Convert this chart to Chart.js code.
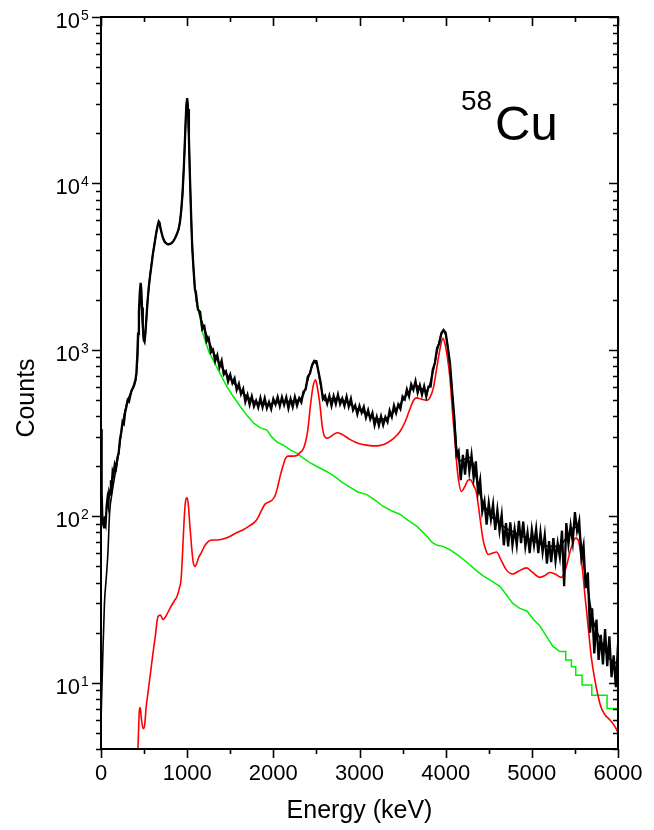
<!DOCTYPE html>
<html>
<head>
<meta charset="utf-8">
<script src="https://cdn.jsdelivr.net/npm/chart.js@4.4.1/dist/chart.umd.min.js"></script>
<style>
  html, body { margin: 0; padding: 0; background: #fff; }
  canvas { display: block; }
</style>
</head>
<body>
<canvas id="chart" width="654" height="830"></canvas>
<script>
// measured spectrum, low energy part (keV, counts)
const specLowE = [0,5,10,15,25,35,45,55,65,75,85,95,105,115,125,135,145,160,175,190,205,220,235,250,265,280,295,310,325,340,355,370,385,400,410,420,430,440,450,460,468,476,485,495,505,515,525,540,555,570,585,600,620,640,655,670,680,690,705,720,740,760,780,800,820,840,860,880,900,915,930,945,960,970,980,990,1000,1010,1020,1030,1040,1050,1060,1075,1090];
const specLowC = [335,230,140,100,90,86,100,93,115,128,118,140,135,165,155,185,178,205,195,225,240,290,320,370,360,420,455,500,490,530,570,590,620,660,720,900,1250,1700,2200,2530,2300,1800,1400,1150,1120,1250,1500,1950,2400,2800,3200,3700,4300,5000,5500,5900,5800,5400,5000,4700,4450,4350,4300,4330,4380,4500,4700,4950,5300,5800,6800,8500,12000,16000,22000,29000,32600,28000,19000,12000,8000,5500,4000,3000,2300];

// measured spectrum from 1100 keV on, one value every 25 keV
const specHighStart = 1100;
const specHighStep = 25;
const specHighC = [
  2250,1747,1696,1329,1380,1122,1176,967,1000,855,929,787,861,712,742,646,710,632,675,575,
  626,542,583,487,536,469,525,458,495,451,514,453,512,447,486,442,507,470,521,460,
  520,468,519,446,507,454,521,463,512,484,562,578,690,722,812,860,855,733,634,507,
  530,475,530,462,527,474,538,472,510,462,524,457,508,435,464,411,461,419,454,392,
  434,384,418,353,396,351,399,354,394,369,432,396,463,418,470,442,525,505,578,527,
  621,576,649,553,613,538,604,525,602,602,759,833,1024,1092,1259,1316,1267,1040,832,566,
  393,234,247,165,234,178,253,186,233,170,214,140,165,107,123,89,120,96,118,83,
  109,82,102,67,91,66,92,67,84,67,94,69,93,66,80,60,83,67,84,60,
  80,61,77,52,71,53,74,54,69,57,82,38,91,68,88,70,106,82,94,57,
  67,37,46,20,28,15,24,13.7,19.4,12.9,21,12.6,19,10.8,14.6,9.4,17
];

// total fit (black, smooth)
const fitE = [0,20,40,60,80,100,130,160,200,250,300,350,400,420,440,455,462,475,490,505,520,540,570,600,640,670,690,720,760,800,840,880,915,945,970,990,1000,1010,1030,1050,1075,1100,1150,1200,1300,1400,1500,1600,1700,1800,1900,2000,2100,2200,2300,2350,2400,2450,2480,2510,2550,2600,2700,2800,2900,3000,3100,3200,3300,3400,3500,3600,3650,3700,3780,3850,3900,3950,3975,4000,4050,4100,4150,4200,4280,4320,4400,4500,4600,4700,4800,4900,5000,5100,5200,5300,5400,5475,5520,5560,5600,5650,5700,5800,5900,6000];
const fitC = [5.8,14,30,42,60,105,140,175,230,360,480,560,650,800,1400,2100,2200,1700,1250,1130,1350,1950,2800,3700,5000,5850,5400,4700,4350,4320,4500,4950,5800,8500,16000,29000,32400,28000,12000,5500,3000,2100,1600,1340,980,790,670,585,520,485,470,478,486,492,502,540,660,800,840,800,610,495,512,500,466,435,406,384,386,425,495,580,612,595,565,730,980,1240,1290,1230,800,380,215,218,226,205,135,104,93,85,80,76,72,68,66,66,74,85,86,75,52,37,25,18,14,13];

// 58Cu component (red)
const cuE = [425,435,445,455,470,490,505,525,545,575,603,630,661,690,720,760,800,850,882,910,930,945,960,975,990,1001,1015,1030,1052,1070,1090,1110,1130,1168,1200,1250,1300,1350,1415,1500,1578,1650,1728,1780,1821,1860,1902,1950,1984,2020,2050,2080,2111,2140,2169,2220,2274,2310,2340,2370,2400,2430,2460,2490,2510,2540,2570,2598,2630,2680,2740,2790,2888,2960,3039,3120,3202,3260,3318,3400,3468,3530,3584,3630,3666,3720,3782,3820,3860,3900,3940,3967,3990,4020,4048,4080,4106,4140,4184,4220,4260,4288,4320,4358,4396,4435,4470,4493,4540,4590,4640,4700,4779,4850,4938,5010,5092,5150,5208,5270,5344,5400,5450,5510,5545,5591,5620,5649,5692,5730,5765,5800,5850,5904,5950,5986,6000];
const cuC = [3.5,5,6.8,7.1,6,5.3,5.5,7.2,8.7,11.5,15,19,25,25.5,24,25.5,28,31,33,37,42,58,85,115,128,129,115,90,65,53,50,52,56,61,66,71,72,72,73,76,80,83,88,92,98,108,118,122,125,133,150,175,200,222,230,230,232,242,250,275,330,460,600,660,600,470,340,300,295,305,318,312,290,278,270,266,265,268,276,295,322,370,440,500,515,505,498,520,600,800,1050,1175,1100,900,690,420,290,180,141,150,165,166,155,138,100,72,62,59,60,61,55,48,45,47,49,46,43,44,46,45,43,50,63,74,70,46,32,23,14,10.5,8.5,7.2,6.4,6.0,5.6,5.2,5.0];

// background (green)
const bgE = [1100,1150,1183,1250,1342,1400,1462,1530,1612,1700,1780,1850,1926,1980,2040,2115,2200,2270,2340,2424,2500,2618,2700,2800,2888,2980,3086,3180,3271,3370,3468,3560,3666,3760,3840,3898,3970,4048,4150,4246,4340,4431,4530,4629,4700,4779,4860,4942,5020,5092,5170,5243,5324,5394,5394,5460,5460,5510,5510,5583,5583,5696,5696,5873,5873,6000];
const bgC = [2000,1550,1250,980,790,690,600,530,460,400,360,340,330,300,280,268,250,240,225,210,200,186,175,160,150,140,135,125,115,108,103,95,87,78,70,67,66,63,58,53,48,44,41,38,34,30,28,27,24,22,19,16.6,15.4,15.4,13.7,13.7,12.5,12.5,11.1,11.1,9.7,9.7,8.4,8.4,7.0,7.0];

const xMajor = [0, 1000, 2000, 3000, 4000, 5000, 6000];
const xMinor = [500, 1500, 2500, 3500, 4500, 5500];
const yExponents = [1, 2, 3, 4, 5];
const yMinorSteps = [2, 3, 4, 5, 6, 7, 8, 9];

function pairs(es, cs) {
    const out = [];
    const n = Math.min(es.length, cs.length);
    for (let i = 0; i < n; i++) out.push({ x: es[i], y: cs[i] });
    return out;
}

const spectrum = pairs(specLowE, specLowC);
specHighC.forEach((c, i) => spectrum.push({ x: specHighStart + i * specHighStep, y: c }));

const FONT = "'Liberation Sans', Arial, sans-serif";

// frame, ticks and all text
const decorations = {
    id: 'decorations',
    afterDraw(chart) {
        const { ctx, chartArea: a, scales: { x, y } } = chart;
        ctx.save();
        ctx.strokeStyle = '#000';
        ctx.fillStyle = '#000';
        ctx.lineWidth = 2;
        ctx.strokeRect(a.left, a.top, a.right - a.left, a.bottom - a.top);

        ctx.lineWidth = 1.6;
        ctx.beginPath();
        const xTick = (v, len) => {
            const px = Math.round(x.getPixelForValue(v)) + 0.5;
            ctx.moveTo(px, a.bottom); ctx.lineTo(px, a.bottom + len);
            ctx.moveTo(px, a.top); ctx.lineTo(px, a.top + len);
        };
        xMajor.forEach(v => xTick(v, 9));
        xMinor.forEach(v => xTick(v, 5));

        const yTick = (v, len) => {
            const py = Math.round(y.getPixelForValue(v)) + 0.5;
            if (py < a.top - 1 || py > a.bottom + 1) return;
            ctx.moveTo(a.left, py); ctx.lineTo(a.left - len, py);
            ctx.moveTo(a.right, py); ctx.lineTo(a.right - len, py);
        };
        yExponents.forEach(e => yTick(Math.pow(10, e), 9));
        [0, 1, 2, 3, 4].forEach(e => yMinorSteps.forEach(s => yTick(s * Math.pow(10, e), 5)));
        ctx.stroke();

        // x tick labels
        ctx.font = '22px ' + FONT;
        ctx.textAlign = 'center';
        ctx.textBaseline = 'alphabetic';
        xMajor.forEach(v => ctx.fillText(String(v), x.getPixelForValue(v), 780));

        // y tick labels 10^n
        yExponents.forEach(e => {
            const py = y.getPixelForValue(Math.pow(10, e));
            ctx.font = '22px ' + FONT;
            ctx.textAlign = 'right';
            ctx.fillText('10', 80, py + 11);
            ctx.font = '14px ' + FONT;
            ctx.textAlign = 'left';
            ctx.fillText(String(e), 81, py + 3);
        });

        // axis titles
        ctx.font = '25px ' + FONT;
        ctx.textAlign = 'center';
        ctx.fillText('Energy (keV)', (a.left + a.right) / 2, 818);
        ctx.save();
        ctx.translate(34, 398);
        ctx.rotate(-Math.PI / 2);
        ctx.fillText('Counts', 0, 0);
        ctx.restore();

        // nuclide label
        ctx.textAlign = 'left';
        ctx.font = '28px ' + FONT;
        ctx.fillText('58', 461, 110);
        ctx.font = '49px ' + FONT;
        ctx.fillText('Cu', 495, 140);
        ctx.restore();
    }
};

new Chart(document.getElementById('chart'), {
    type: 'line',
    data: {
        datasets: [
            { label: 'data', data: spectrum, borderColor: '#000', borderWidth: 2.3, order: 0 },
            { label: 'fit', data: pairs(fitE, fitC), borderColor: '#000', borderWidth: 1.6, cubicInterpolationMode: 'monotone', order: 1 },
            { label: '58Cu', data: pairs(cuE, cuC), borderColor: '#ff0000', borderWidth: 1.6, cubicInterpolationMode: 'monotone', order: 2 },
            { label: 'background', data: pairs(bgE, bgC), borderColor: '#00ee00', borderWidth: 1.5, order: 3 }
        ]
    },
    options: {
        responsive: false,
        animation: false,
        devicePixelRatio: 1,
        elements: { point: { radius: 0 }, line: { fill: false } },
        layout: { padding: { left: 0, top: 17, right: 36, bottom: 0 } },
        plugins: { legend: { display: false }, tooltip: { enabled: false } },
        scales: {
            x: {
                type: 'linear', min: 0, max: 6000,
                grid: { display: false }, border: { display: false },
                ticks: { display: false },
                afterFit: s => { s.height = 830 - 749; }
            },
            y: {
                type: 'logarithmic', min: 4, max: 100000,
                grid: { display: false }, border: { display: false },
                ticks: { display: false },
                afterFit: s => { s.width = 101; }
            }
        }
    },
    plugins: [decorations]
});
</script>
</body>
</html>
